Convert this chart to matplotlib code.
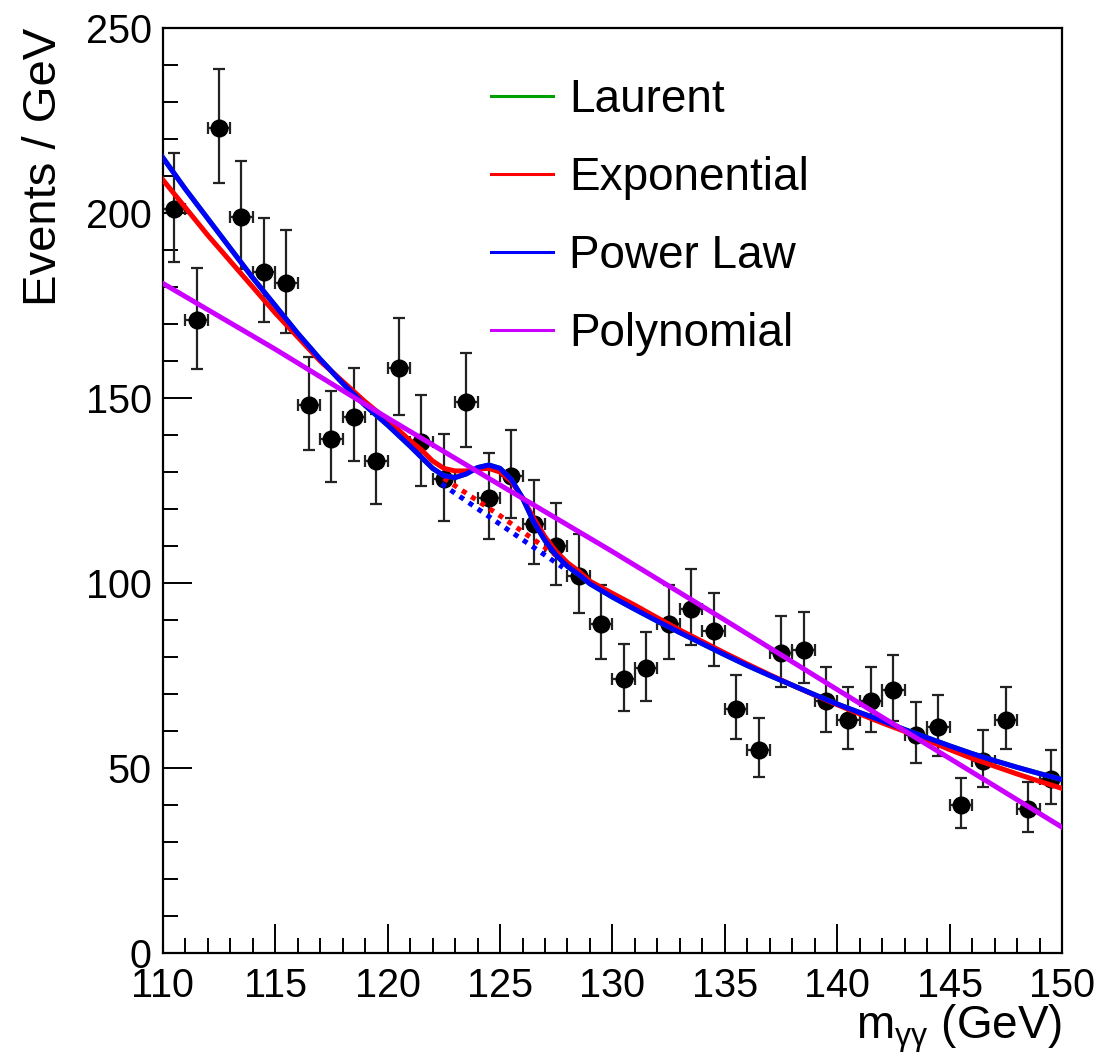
import numpy as np
import matplotlib
matplotlib.use("Agg")
import matplotlib.pyplot as plt
from matplotlib.lines import Line2D
from matplotlib.ticker import MultipleLocator

plt.rcParams["font.family"] = ["Liberation Sans", "DejaVu Sans"]
plt.rcParams["mathtext.fontset"] = "custom"
plt.rcParams["mathtext.rm"] = "Liberation Sans"
plt.rcParams["mathtext.it"] = "Liberation Sans"
plt.rcParams["mathtext.sf"] = "Liberation Sans"

# ------------------------------------------------------------
# data (1 GeV bins, 110-150 GeV)
# ------------------------------------------------------------
bin_centres = [110.5, 111.5, 112.5, 113.5, 114.5, 115.5, 116.5, 117.5, 118.5, 119.5,
               120.5, 121.5, 122.5, 123.5, 124.5, 125.5, 126.5, 127.5, 128.5, 129.5,
               130.5, 131.5, 132.5, 133.5, 134.5, 135.5, 136.5, 137.5, 138.5, 139.5,
               140.5, 141.5, 142.5, 143.5, 144.5, 145.5, 146.5, 147.5, 148.5, 149.5]
events = [201, 171, 223, 199, 184, 181, 148, 139, 145, 133,
          158, 138, 128, 149, 123, 129, 116, 110, 102, 89,
          74, 77, 89, 93, 87, 66, 55, 81, 82, 68,
          63, 68, 71, 59, 61, 40, 52, 63, 39, 47]

# fitted shapes (signal + background)
fit_mass = [110, 111, 112, 113, 114, 115, 116, 117, 118, 119, 120, 121,
            121.5, 122, 122.5, 123, 123.5, 124, 124.5, 125, 125.5, 126, 126.5,
            127, 127.5, 128, 128.5, 129,
            130, 131, 132, 133, 134, 135, 136, 137, 138, 139, 140,
            141, 142, 143, 144, 145, 146, 147, 148, 149, 150]
expo_fit = [209, 201.5, 194, 187, 180, 173, 166.5, 160, 154.5, 149, 144, 138.5,
            136, 133, 131, 130.3, 130.3, 130.8, 131, 130, 127.5, 123, 117.5,
            112.5, 108.5, 105.5, 103.2, 100.5,
            97.2, 94, 90.6, 87.3, 84.2, 81.1, 78.1, 75.2, 72.4, 69.7, 67.1,
            64.6, 62.2, 59.9, 57.5, 55, 52.6, 50.5, 48.4, 46.4, 44.5]
power_fit = [215, 206.5, 198.5, 190.5, 182.5, 175, 167.5, 160.5, 154, 148, 142.7, 137,
             134, 131, 129, 128.5, 129.5, 131.2, 131.9, 131, 128, 123, 116.5,
             111.5, 107.5, 104.5, 102.3, 99.8,
             96.2, 92.9, 89.7, 86.6, 83.6, 80.6, 77.7, 75, 72.4, 69.8, 67.3,
             65, 62.8, 60.4, 58.2, 56, 53.9, 52, 50.2, 48.5, 46.9]
# Laurent fit is hidden beneath the power-law curve
laurent_fit = list(power_fit)

poly_mass = [110, 115, 120, 125, 130, 135, 140, 145, 150]
poly_fit = [181, 163.2, 144.6, 126.5, 108.5, 90, 71.2, 52.6, 34]

# background-only components under the peak (dotted)
expo_bkg_mass = [122.5, 125, 128.0]
expo_bkg = [128.3, 118.2, 105.3]
power_bkg_mass = [122.4, 125, 127.8]
power_bkg = [126.8, 115.9, 104.2]

labels = ["Laurent", "Exponential", "Power Law", "Polynomial"]
colors = ["#00a000", "#ff0000", "#0000ff", "#cc00ff"]

# ------------------------------------------------------------
# Poisson (Gehrels) error bars
# ------------------------------------------------------------
n = np.array(events, dtype=float)
err_hi = np.sqrt(n + 0.75) + 1.0
err_lo = n - n * (1.0 - 1.0 / (9.0 * n) - 1.0 / (3.0 * np.sqrt(n))) ** 3

fig = plt.figure(figsize=(11, 10.58), dpi=100)
ax = fig.add_axes([0.148, 0.0992, 0.8175, 0.8743])

ax.errorbar(bin_centres, events, yerr=[err_lo, err_hi], xerr=0.5,
            fmt="o", color="black", ecolor="#222222", markersize=12,
            elinewidth=1.6, capsize=4.3, capthick=1.6, zorder=2)

lw = 3.6
ax.plot(fit_mass, laurent_fit, color=colors[0], lw=lw, zorder=3)
ax.plot(expo_bkg_mass, expo_bkg, color=colors[1], lw=lw, ls=(0, (1, 1.2)), zorder=3)
ax.plot(power_bkg_mass, power_bkg, color=colors[2], lw=lw, ls=(0, (1, 1.2)), zorder=3)
ax.plot(fit_mass, expo_fit, color=colors[1], lw=lw, zorder=4)
ax.plot(fit_mass, power_fit, color=colors[2], lw=lw, zorder=5)
ax.plot(poly_mass, poly_fit, color=colors[3], lw=lw, zorder=6)

ax.set_xlim(110, 150)
ax.set_ylim(0, 250)

ax.xaxis.set_major_locator(MultipleLocator(5))
ax.xaxis.set_minor_locator(MultipleLocator(1))
ax.yaxis.set_major_locator(MultipleLocator(50))
ax.yaxis.set_minor_locator(MultipleLocator(10))
ax.tick_params(which="both", direction="in", width=1.4, labelsize=28.5,
               top=False, right=False)
ax.tick_params(which="major", length=21)
ax.tick_params(which="minor", length=11)
ax.tick_params(axis="x", pad=10)
ax.tick_params(axis="y", pad=8)
for sp in ax.spines.values():
    sp.set_linewidth(1.6)

ax.set_xlabel(r"m$_{\gamma\gamma}$ (GeV)", fontsize=33, loc="right", labelpad=-2)
ax.set_ylabel("Events / GeV", fontsize=34, loc="top", labelpad=14)

handles = [Line2D([0], [0], color=c, lw=2.2) for c in colors]
ax.legend(handles, labels, loc="upper left", bbox_to_anchor=(0.345, 0.966),
          frameon=False, fontsize=33, handlelength=1.35, handletextpad=0.35,
          labelspacing=0.74, borderaxespad=0.0)

fig.savefig("out.png", dpi=100)
